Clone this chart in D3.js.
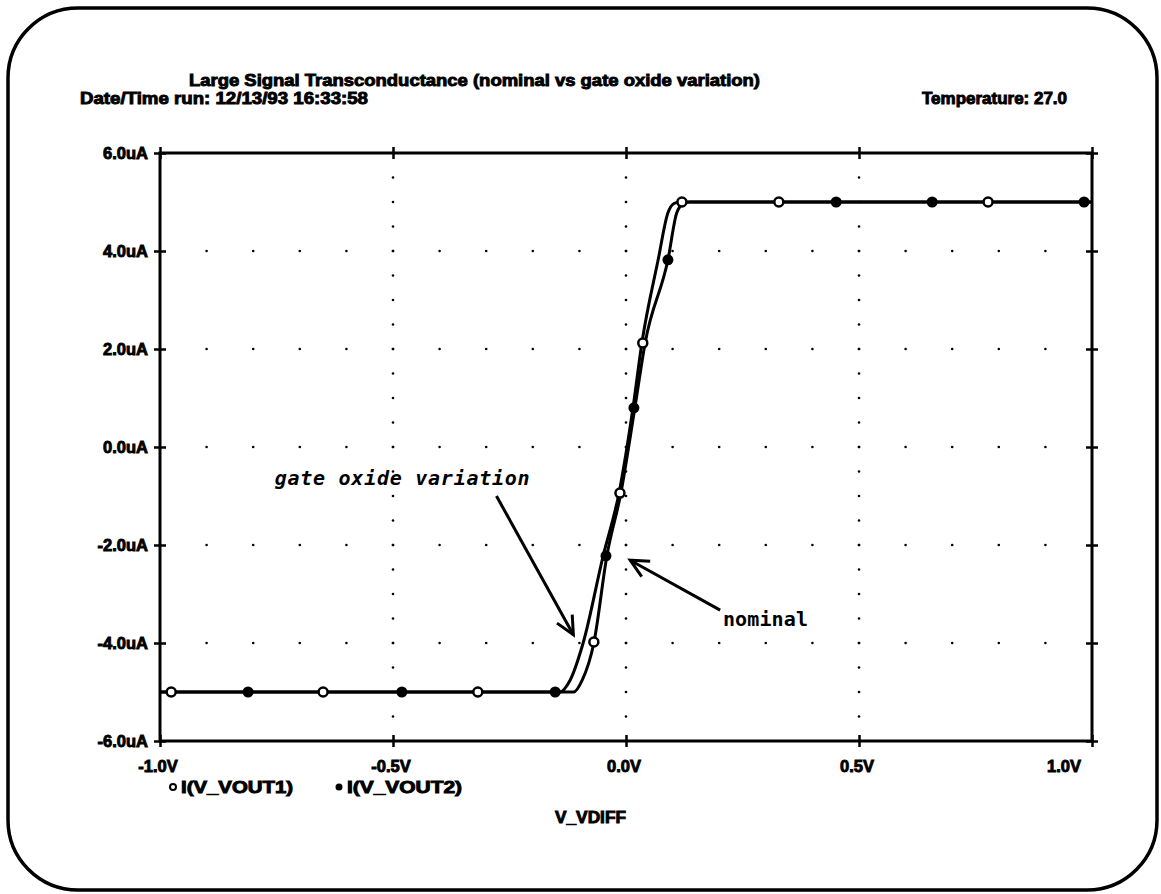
<!DOCTYPE html>
<html><head><meta charset="utf-8">
<script src="https://cdn.jsdelivr.net/npm/d3@7/dist/d3.min.js"></script>
<style>
html,body{margin:0;padding:0;background:#fff;}
svg{display:block;}
.lbl{font-family:"Liberation Sans",Arial,sans-serif;font-weight:700;fill:#000;stroke:#000;stroke-width:0.9px;}
.ann{font-family:"DejaVu Sans Mono",monospace;font-weight:700;fill:#000;}
</style></head>
<body>
<script>
// ---- data ----
const titleText = "Large Signal Transconductance (nominal vs gate oxide variation)";
const dateText = "Date/Time run: 12/13/93  16:33:58";
const tempText = "Temperature: 27.0";
const xLabel = "V_VDIFF";
const xTicks = [-1.0, -0.5, 0.0, 0.5, 1.0];
const xTickLabels = ["-1.0V", "-0.5V", "0.0V", "0.5V", "1.0V"];
const yTicks = [-6, -4, -2, 0, 2, 4, 6];
const yTickLabels = ["-6.0uA", "-4.0uA", "-2.0uA", "0.0uA", "2.0uA", "4.0uA", "6.0uA"];
const seriesNames = ["I(V_VOUT1)", "I(V_VOUT2)"];

// nominal curve (right trace)
const nominalX = [-1.0, -0.112, -0.094, -0.069, -0.041, -0.011, 0.019, 0.041, 0.090, 0.109, 0.124, 0.137, 1.0];
const nominalY = [-5.0, -5.0, -4.76, -4.0, -2.22, -0.94, 0.80, 2.12, 3.82, 4.78, 4.97, 5.0, 5.0];
// gate oxide variation curve (left trace)
const oxideX = [-1.0, -0.142, -0.120, -0.092, -0.049, -0.015, 0.015, 0.034, 0.069, 0.090, 0.103, 0.115, 1.0];
const oxideY = [-5.0, -5.0, -4.76, -4.0, -2.22, -0.94, 0.80, 2.12, 3.82, 4.78, 4.97, 5.0, 5.0];

// markers: open = I(V_VOUT1), filled = I(V_VOUT2)
const vout1MarkX = [-0.976, -0.650, -0.318, -0.069, -0.013, 0.036, 0.120, 0.328, 0.777];
const vout1MarkY = [-5.0, -5.0, -5.0, -3.98, -0.94, 2.12, 5.0, 5.0, 5.0];
const vout2MarkX = [-0.811, -0.481, -0.152, -0.043, 0.017, 0.090, 0.451, 0.657, 0.983];
const vout2MarkY = [-5.0, -5.0, -5.0, -2.22, 0.80, 3.82, 5.0, 5.0, 5.0];

const annotations = [
  {text: "gate oxide variation", x: -0.754, y: -0.78, tipX: -0.113, tipY: -3.83, fromX: -0.278, fromY: -1.0, italic: true, len: 255},
  {text: "nominal", x: 0.208, y: -3.65, tipX: 0.009, tipY: -2.31, fromX: 0.202, fromY: -3.33, italic: false, len: 85}
];

// ---- drawing ----
const W = 1161, H = 894;
const svg = d3.select("body").append("svg").attr("width", W).attr("height", H);
svg.append("rect").attr("width", W).attr("height", H).attr("fill", "#fff");

// rounded page frame
svg.append("rect").attr("x", 8).attr("y", 8).attr("width", 1149).attr("height", 882)
  .attr("rx", 70).attr("ry", 70).attr("fill", "none").attr("stroke", "#000").attr("stroke-width", 3.5);

const x = d3.scaleLinear().domain([-1, 1]).range([160, 1092]);
const y = d3.scaleLinear().domain([-6, 6]).range([741, 153]);

// dotted grid
const g = svg.append("g");
const xMinor = d3.range(-9, 10).map(i => i / 10);
const yRows = yTicks.slice(1, -1);
yRows.forEach(v => {
  xMinor.forEach(u => {
    g.append("circle").attr("cx", x(u)).attr("cy", y(v)).attr("r", 1.3).attr("fill", "#000");
  });
});
[-0.5, 0, 0.5].forEach(u => {
  d3.range(-11, 12).map(i => i * 0.5).forEach(v => {
    g.append("circle").attr("cx", x(u)).attr("cy", y(v)).attr("r", 1.3).attr("fill", "#000");
  });
});

// plot frame
svg.append("rect").attr("x", x(-1)).attr("y", y(6)).attr("width", x(1) - x(-1)).attr("height", y(-6) - y(6))
  .attr("fill", "none").attr("stroke", "#000").attr("stroke-width", 3);

// tick crosses via axes
function addAxis(axis, tx, ty) {
  const a = svg.append("g").attr("transform", `translate(${tx},${ty})`).call(axis);
  a.select(".domain").remove();
  a.selectAll("text").remove();
  a.selectAll(".tick line").attr("stroke", "#000").attr("stroke-width", 2.5);
  return a;
}
addAxis(d3.axisBottom(x).tickValues(xTicks).tickSize(6), 0, y(-6));
addAxis(d3.axisTop(x).tickValues(xTicks).tickSize(6), 0, y(-6));
addAxis(d3.axisBottom(x).tickValues(xTicks).tickSize(6), 0, y(6));
addAxis(d3.axisTop(x).tickValues(xTicks).tickSize(6), 0, y(6));
addAxis(d3.axisLeft(y).tickValues(yTicks).tickSize(6), x(-1), 0);
addAxis(d3.axisRight(y).tickValues(yTicks).tickSize(6), x(-1), 0);
addAxis(d3.axisLeft(y).tickValues(yTicks).tickSize(6), x(1), 0);
addAxis(d3.axisRight(y).tickValues(yTicks).tickSize(6), x(1), 0);

// tick labels
yTicks.forEach((v, i) => {
  svg.append("text").attr("class", "lbl").attr("x", 148).attr("y", y(v) + 6)
    .attr("text-anchor", "end").attr("font-size", 16.5).text(yTickLabels[i]);
});
xTicks.forEach((v, i) => {
  let t = svg.append("text").attr("class", "lbl").attr("y", 772).attr("font-size", 16.5).text(xTickLabels[i]);
  if (i === xTicks.length - 1) t.attr("x", 1081).attr("text-anchor", "end");
  else t.attr("x", x(v) - 2).attr("text-anchor", "middle");
});

// header texts
svg.append("text").attr("class", "lbl").attr("x", 189).attr("y", 86).attr("font-size", 16)
  .attr("textLength", 571).attr("lengthAdjust", "spacingAndGlyphs").text(titleText);
svg.append("text").attr("class", "lbl").attr("x", 80).attr("y", 104).attr("font-size", 16)
  .attr("textLength", 288).attr("lengthAdjust", "spacingAndGlyphs").text(dateText);
svg.append("text").attr("class", "lbl").attr("x", 922).attr("y", 104).attr("font-size", 16)
  .attr("textLength", 145).attr("lengthAdjust", "spacingAndGlyphs").text(tempText);

// curves
const line = d3.line().x(d => x(d[0])).y(d => y(d[1])).curve(d3.curveMonotoneX);
[[nominalX, nominalY], [oxideX, oxideY]].forEach(([xs, ys]) => {
  svg.append("path").attr("d", line(xs.map((v, i) => [v, ys[i]])))
    .attr("fill", "none").attr("stroke", "#000").attr("stroke-width", 3).attr("stroke-linejoin", "round");
});

// markers
vout1MarkX.forEach((v, i) => {
  svg.append("circle").attr("cx", x(v)).attr("cy", y(vout1MarkY[i])).attr("r", 4.5)
    .attr("fill", "#fff").attr("stroke", "#000").attr("stroke-width", 2.5);
});
vout2MarkX.forEach((v, i) => {
  svg.append("circle").attr("cx", x(v)).attr("cy", y(vout2MarkY[i])).attr("r", 5.5).attr("fill", "#000");
});

// legend
svg.append("circle").attr("cx", 173).attr("cy", 787).attr("r", 3).attr("fill", "#fff").attr("stroke", "#000").attr("stroke-width", 2);
svg.append("text").attr("class", "lbl").attr("x", 181).attr("y", 793).attr("font-size", 16)
  .attr("textLength", 112).attr("lengthAdjust", "spacingAndGlyphs").text(seriesNames[0]);
svg.append("circle").attr("cx", 339).attr("cy", 787).attr("r", 3.5).attr("fill", "#000");
svg.append("text").attr("class", "lbl").attr("x", 347).attr("y", 793).attr("font-size", 16)
  .attr("textLength", 115).attr("lengthAdjust", "spacingAndGlyphs").text(seriesNames[1]);
svg.append("text").attr("class", "lbl").attr("x", 555).attr("y", 823).attr("font-size", 16)
  .attr("textLength", 71).attr("lengthAdjust", "spacingAndGlyphs").text(xLabel);

// annotations
annotations.forEach(a => {
  svg.append("text").attr("class", "ann").attr("x", x(a.x)).attr("y", y(a.y)).attr("font-size", 20)
    .attr("font-style", a.italic ? "oblique" : "normal")
    .attr("textLength", a.len).attr("lengthAdjust", "spacing").text(a.text);
  const x1 = x(a.fromX), y1 = y(a.fromY), x2 = x(a.tipX), y2 = y(a.tipY);
  svg.append("line").attr("x1", x1).attr("y1", y1).attr("x2", x2).attr("y2", y2)
    .attr("stroke", "#000").attr("stroke-width", 3);
  const ang = Math.atan2(y2 - y1, x2 - x1), L = 20, sp = 0.45;
  const p1 = [x2 - L * Math.cos(ang - sp), y2 - L * Math.sin(ang - sp)];
  const p2 = [x2 - L * Math.cos(ang + sp), y2 - L * Math.sin(ang + sp)];
  svg.append("path").attr("d", `M${p1[0]},${p1[1]}L${x2},${y2}L${p2[0]},${p2[1]}`)
    .attr("fill", "none").attr("stroke", "#000").attr("stroke-width", 3).attr("stroke-linejoin", "miter");
});
</script>
</body></html>
